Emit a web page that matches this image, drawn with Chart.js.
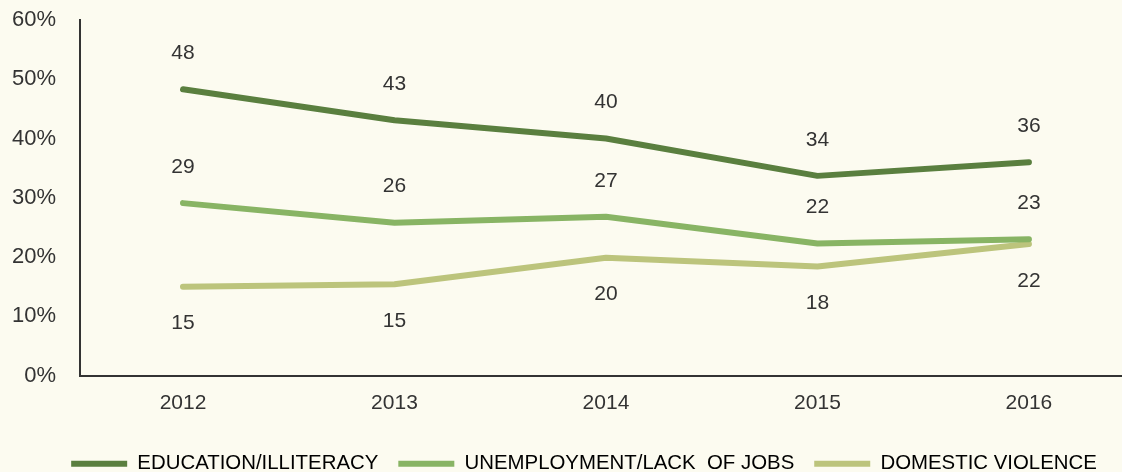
<!DOCTYPE html>
<html>
<head>
<meta charset="utf-8">
<script src="https://cdn.jsdelivr.net/npm/chart.js@4"></script>
<style>
  html, body { margin: 0; padding: 0; background: #fcfbf0; overflow: hidden; }
  #wrap { width: 1122px; height: 472px; position: relative; }
</style>
</head>
<body>
<div id="wrap"><canvas id="chart"></canvas></div>
<script>
const years = [2012, 2013, 2014, 2015, 2016];
const education = [48.3, 43.1, 40.0, 33.7, 36.0];
const unemployment = [29.1, 25.8, 26.8, 22.3, 23.0];
const violence = [15.0, 15.4, 19.9, 18.4, 22.2];
const yTicks = [0, 10, 20, 30, 40, 50, 60];

const FONT = '"Liberation Sans", Arial, sans-serif';
const INK = '#333333';

// labels above or below each line (px offset from the point)
const labelOffsets = [-36, -36, 37];

const bgPlugin = {
  id: 'bg',
  beforeDraw(chart) {
    const c = chart.ctx;
    c.save();
    c.fillStyle = '#fcfbf0';
    c.fillRect(0, 0, chart.width, chart.height);
    c.restore();
  }
};

// nudge the legend row a bit right of centre, like the original
const legendShift = {
  id: 'legendShift',
  afterLayout(chart) {
    chart.legend.left += 46;
  }
};

const valueLabels = {
  id: 'valueLabels',
  afterDatasetsDraw(chart) {
    const c = chart.ctx;
    c.save();
    c.font = '21px ' + FONT;
    c.fillStyle = INK;
    c.textAlign = 'center';
    c.textBaseline = 'middle';
    chart.data.datasets.forEach((ds, i) => {
      chart.getDatasetMeta(i).data.forEach((pt, j) => {
        c.fillText(Math.round(ds.data[j].y), pt.x, pt.y + labelOffsets[i]);
      });
    });
    c.restore();
  }
};

const toPoints = arr => years.map((y, i) => ({ x: y, y: arr[i] }));

function line(label, arr, color) {
  return {
    label: label,
    data: toPoints(arr),
    borderColor: color,
    backgroundColor: color,
    borderWidth: 6,
    borderCapStyle: 'round',
    borderJoinStyle: 'round',
    pointRadius: 0,
    tension: 0
  };
}

new Chart(document.getElementById('chart'), {
  type: 'line',
  data: {
    datasets: [
      line('EDUCATION/ILLITERACY', education, '#5a7f3f'),
      line('UNEMPLOYMENT/LACK  OF JOBS', unemployment, '#88b464'),
      line('DOMESTIC VIOLENCE', violence, '#bcc47c')
    ]
  },
  options: {
    responsive: true,
    maintainAspectRatio: false,
    animation: false,
    layout: { padding: { top: 20, right: 0, left: 0, bottom: -12 } },
    plugins: {
      tooltip: { enabled: false },
      legend: {
        position: 'bottom',
        labels: {
          boxWidth: 56,
          boxHeight: 6,
          padding: 20,
          color: INK,
          font: { size: 20.4, family: FONT },
          generateLabels: chart => chart.data.datasets.map((d, i) => ({
            text: d.label,
            fillStyle: d.borderColor,
            strokeStyle: d.borderColor,
            lineWidth: 0,
            datasetIndex: i
          }))
        }
      }
    },
    scales: {
      x: {
        type: 'linear',
        min: 2011.513,
        max: 2016.44,
        grid: { display: false, tickLength: 0 },
        border: { display: true, color: INK, width: 2 },
        afterBuildTicks: s => { s.ticks = years.map(v => ({ value: v })); },
        afterFit: s => { s.height = 58; },
        ticks: {
          color: INK,
          padding: 15,
          font: { size: 21, family: FONT },
          callback: v => String(v)
        }
      },
      y: {
        min: 0,
        max: 60,
        grid: { display: false, tickLength: 24 },
        border: { display: true, color: INK, width: 2 },
        afterBuildTicks: s => { s.ticks = yTicks.map(v => ({ value: v })); },
        afterFit: s => { s.width = 80; },
        ticks: {
          color: INK,
          padding: 0,
          font: { size: 22, family: FONT },
          callback: v => v + '%'
        }
      }
    }
  },
  plugins: [bgPlugin, legendShift, valueLabels]
});
</script>
</body>
</html>
